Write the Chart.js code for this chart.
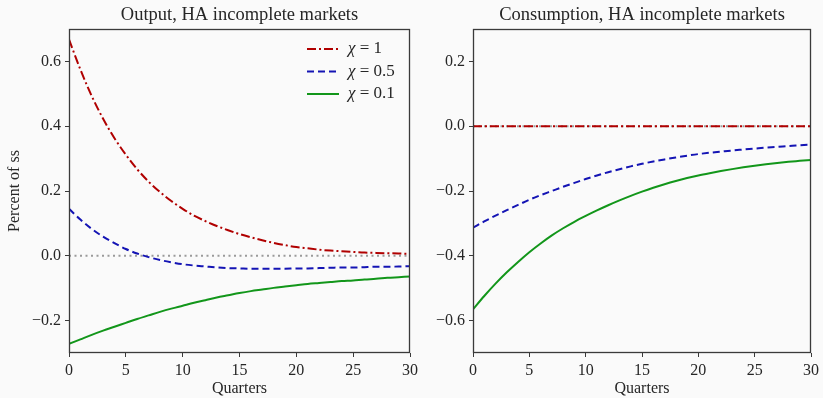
<!DOCTYPE html>
<html>
<head>
<meta charset="utf-8">
<script src="https://cdn.jsdelivr.net/npm/chart.js@4.4.1/dist/chart.umd.min.js"></script>
<style>
  html, body { margin: 0; padding: 0; background: #fafafa; }
  #wrap { position: relative; width: 823px; height: 398px; overflow: hidden; }
  canvas { position: absolute; top: 0; }
</style>
</head>
<body>
<div id="wrap">
  <canvas id="outputChart" width="430" height="398" style="left:0"></canvas>
  <canvas id="consChart" width="411" height="398" style="left:412px"></canvas>
</div>
<script>
// Quarters after the shock
const QUARTERS = [0,1,2,3,4,5,6,7,8,9,10,11,12,13,14,15,16,17,18,19,20,21,22,23,24,25,26,27,28,29,30];
const X_TICKS = [0,5,10,15,20,25,30];
const OUTPUT_Y_TICKS = [-0.2,0.0,0.2,0.4,0.6];
const CONS_Y_TICKS = [-0.6,-0.4,-0.2,0.0,0.2];
const CHI_LABELS = ['1','0.5','0.1'];

// Output response, percent of steady state
const OUTPUT_CHI_1 = [0.668,0.575,0.493,0.423,0.363,0.312,0.267,0.229,0.197,0.169,0.145,0.124,0.107,0.092,0.079,0.067,0.057,0.048,0.040,0.033,0.027,0.023,0.019,0.016,0.014,0.012,0.010,0.009,0.008,0.007,0.006];
const OUTPUT_CHI_05 = [0.145,0.112,0.083,0.059,0.039,0.021,0.007,-0.004,-0.013,-0.020,-0.026,-0.030,-0.033,-0.036,-0.038,-0.039,-0.040,-0.040,-0.040,-0.040,-0.039,-0.039,-0.038,-0.037,-0.036,-0.036,-0.035,-0.034,-0.034,-0.033,-0.032];
const OUTPUT_CHI_01 = [-0.272,-0.258,-0.244,-0.231,-0.219,-0.207,-0.195,-0.184,-0.173,-0.163,-0.154,-0.145,-0.137,-0.129,-0.122,-0.115,-0.109,-0.104,-0.099,-0.095,-0.091,-0.087,-0.084,-0.081,-0.078,-0.076,-0.073,-0.071,-0.068,-0.066,-0.064];

// Consumption response, percent of steady state
const CONS_CHI_1 = [0,0,0,0,0,0,0,0,0,0,0,0,0,0,0,0,0,0,0,0,0,0,0,0,0,0,0,0,0,0,0];
const CONS_CHI_05 = [-0.313,-0.294,-0.276,-0.259,-0.243,-0.227,-0.213,-0.200,-0.187,-0.175,-0.163,-0.152,-0.142,-0.133,-0.124,-0.116,-0.109,-0.1025,-0.0965,-0.091,-0.086,-0.082,-0.0785,-0.075,-0.072,-0.069,-0.066,-0.064,-0.061,-0.059,-0.057];
const CONS_CHI_01 = [-0.565,-0.524,-0.486,-0.451,-0.419,-0.389,-0.362,-0.337,-0.315,-0.295,-0.277,-0.260,-0.244,-0.229,-0.215,-0.202,-0.190,-0.179,-0.169,-0.160,-0.152,-0.145,-0.1385,-0.1325,-0.127,-0.122,-0.1175,-0.1135,-0.110,-0.107,-0.104];

// Steady-state reference line
const ZERO_LINE = [0,0,0,0,0,0,0,0,0,0,0,0,0,0,0,0,0,0,0,0,0,0,0,0,0,0,0,0,0,0,0];

const FONT = '"Liberation Serif", "Times New Roman", serif';
const INK = '#262626';
const FRAME = '#3a3a3a';
const STYLES = [
  { color: '#b00000', dash: [9, 3, 2, 3] },
  { color: '#1414b4', dash: [7, 4] },
  { color: '#12961a', dash: [] }
];

const pts = arr => QUARTERS.map((q, i) => ({ x: q, y: arr[i] }));
const fmt = v => (v < -1e-9 ? '\u2212' : '') + Math.abs(v).toFixed(1);

function seriesSets(arrs) {
  const sets = arrs.map((a, i) => ({
    label: '\u03c7 = ' + CHI_LABELS[i],
    chi: CHI_LABELS[i],
    data: pts(a),
    borderColor: STYLES[i].color,
    borderDash: STYLES[i].dash,
    borderWidth: 2,
    pointRadius: 0,
    cubicInterpolationMode: 'monotone',
    fill: false
  }));
  // drawn last in the array so it sits underneath the series
  sets.push({
    label: 'ss',
    data: pts(ZERO_LINE),
    borderColor: '#9a9a9a',
    borderDash: [2, 3.5],
    borderWidth: 2,
    pointRadius: 0,
    fill: false,
    legendSkip: true
  });
  return sets;
}

const panelDecor = {
  id: 'panelDecor',
  afterDraw(chart, args, opts) {
    const { ctx, chartArea: a } = chart;
    ctx.save();
    // frame around the plotting area
    ctx.strokeStyle = FRAME;
    ctx.lineWidth = 1.3;
    ctx.strokeRect(Math.round(a.left) + 0.5, Math.round(a.top) + 0.5,
                   Math.round(a.right - a.left) - 1, Math.round(a.bottom - a.top) - 1);
    // panel title
    ctx.fillStyle = INK;
    ctx.font = '18.5px ' + FONT;
    ctx.textAlign = 'center';
    ctx.textBaseline = 'middle';
    ctx.fillText(opts.title, (a.left + a.right) / 2, 15);
    // legend
    if (opts.legend) {
      chart.data.datasets.filter(d => !d.legendSkip).forEach((d, i) => {
        const y = a.top + 20 + i * 22.5;
        const x0 = a.right - 103, x1 = a.right - 71;
        ctx.beginPath();
        ctx.setLineDash(d.borderDash);
        ctx.strokeStyle = d.borderColor;
        ctx.lineWidth = 2;
        ctx.moveTo(x0, y);
        ctx.lineTo(x1, y);
        ctx.stroke();
        ctx.setLineDash([]);
        ctx.textAlign = 'left';
        ctx.fillStyle = INK;
        let tx = a.right - 62;
        ctx.font = 'italic 17px ' + FONT;
        ctx.fillText('\u03c7', tx, y);
        tx += ctx.measureText('\u03c7').width;
        ctx.font = '17px ' + FONT;
        ctx.fillText(' = ' + d.chi, tx, y);
      });
    }
    ctx.restore();
  }
};

function buildChart(id, arrs, yTicks, yMin, yMax, title, yTitle, yWidth, padRight, legend) {
  const tickFont = { family: FONT, size: 16 };
  new Chart(document.getElementById(id), {
    type: 'line',
    data: { datasets: seriesSets(arrs) },
    plugins: [panelDecor],
    options: {
      responsive: false,
      devicePixelRatio: 1,
      animation: false,
      events: [],
      layout: { autoPadding: false, padding: { top: 29, right: padRight, left: 0, bottom: 0 } },
      plugins: {
        legend: { display: false },
        title: { display: false },
        tooltip: { enabled: false },
        panelDecor: { title: title, legend: legend }
      },
      scales: {
        x: {
          type: 'linear',
          min: 0, max: 30,
          afterBuildTicks: s => { s.ticks = X_TICKS.map(v => ({ value: v })); },
          afterFit: s => { s.height = 45; },
          border: { display: false },
          grid: { drawOnChartArea: false, drawTicks: true, tickLength: 4, color: FRAME, lineWidth: 1 },
          ticks: { font: tickFont, color: INK, padding: 4, maxRotation: 0, callback: v => String(v) },
          title: { display: true, text: 'Quarters', font: { family: FONT, size: 16 }, color: INK, padding: { top: 0, bottom: 0 } }
        },
        y: {
          type: 'linear',
          min: yMin, max: yMax,
          afterBuildTicks: s => { s.ticks = yTicks.map(v => ({ value: v })); },
          afterFit: s => { s.width = yWidth; },
          border: { display: false },
          grid: { drawOnChartArea: false, drawTicks: true, tickLength: 4, color: FRAME, lineWidth: 1 },
          ticks: { font: tickFont, color: INK, padding: 4, callback: v => fmt(v) },
          title: { display: !!yTitle, text: yTitle || '', font: { family: FONT, size: 16 }, color: INK, padding: { top: 5, bottom: 0 } }
        }
      }
    }
  });
}

buildChart('outputChart', [OUTPUT_CHI_1, OUTPUT_CHI_05, OUTPUT_CHI_01], OUTPUT_Y_TICKS, -0.3, 0.7,
  'Output, HA incomplete markets', 'Percent of ss', 69, 20, true);
buildChart('consChart', [CONS_CHI_1, CONS_CHI_05, CONS_CHI_01], CONS_Y_TICKS, -0.7, 0.3,
  'Consumption, HA incomplete markets', '', 61, 9, false);
</script>
</body>
</html>
